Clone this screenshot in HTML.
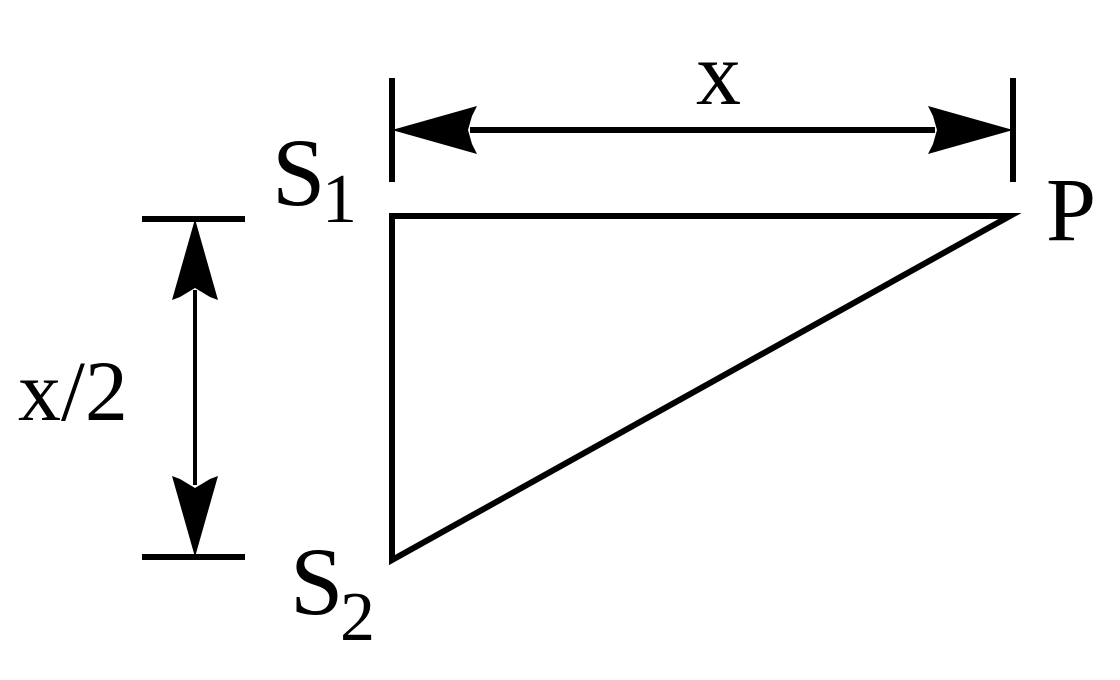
<!DOCTYPE html>
<html><head><style>html,body{margin:0;padding:0;background:#fff}text{font-family:"Liberation Serif","Times New Roman",serif}</style></head><body>
<svg width="1120" height="680" viewBox="0 0 1120 680" xmlns="http://www.w3.org/2000/svg" style="display:block">
<g stroke="#000" stroke-width="6" fill="none">
<line x1="392" y1="78" x2="392" y2="182"/>
<line x1="1013" y1="78" x2="1013" y2="182"/>
<line x1="470" y1="130" x2="935" y2="130"/>
<line x1="142" y1="219" x2="245" y2="219"/>
<line x1="142" y1="557" x2="245" y2="557"/>
<polygon points="392,216 1010,216 392,560" stroke-linejoin="miter"/>
</g>
<line x1="195" y1="290" x2="195" y2="485" stroke="#000" stroke-width="4"/>
<g fill="#000">
<polygon points="392,130 477,106 472,116 468,130 472,144 477,154"/>
<polygon points="1013,130 928,106 933,116 937,130 933,144 928,154"/>
<polygon points="195,219 218,300 210,297 195,288 180,297 172,300"/>
<polygon points="195,557 218,476 210,479 195,488 180,479 172,476"/>
</g>
<g fill="#000">
<text x="696" y="104" font-size="90">x</text>
<text x="272" y="205" font-size="96">S</text>
<text x="322" y="222" font-size="70">1</text>
<text x="1046" y="240" font-size="90">P</text>
<text x="18" y="420" font-size="86">x/2</text>
<text x="290" y="614" font-size="96">S</text>
<text x="340" y="640" font-size="70">2</text>
</g>
</svg>
</body></html>
